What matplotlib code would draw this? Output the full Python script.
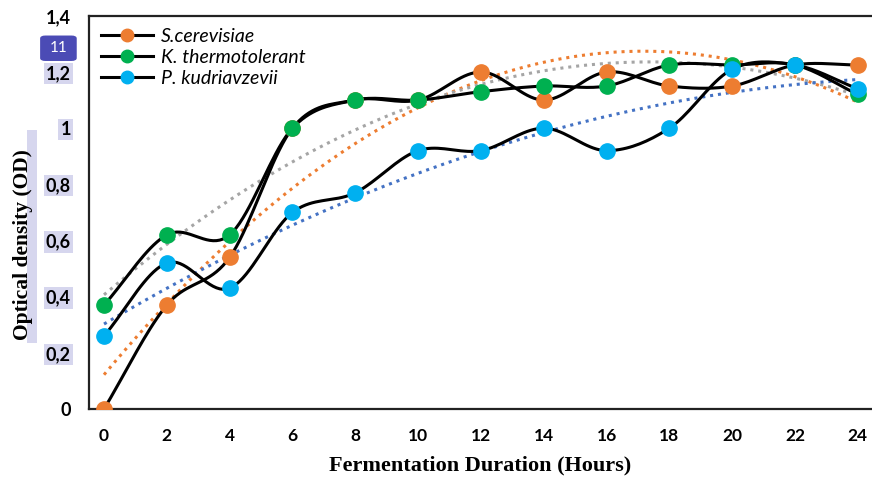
import numpy as np
import matplotlib.pyplot as plt
from matplotlib.patches import Rectangle, FancyBboxPatch

# data
hours = [0, 2, 4, 6, 8, 10, 12, 14, 16, 18, 20, 22, 24]
s_cerevisiae = [0.0, 0.37, 0.54, 1.0, 1.1, 1.1, 1.2, 1.1, 1.2, 1.15, 1.15, 1.225, 1.225]
k_thermo = [0.37, 0.62, 0.62, 1.0, 1.1, 1.1, 1.13, 1.15, 1.15, 1.225, 1.225, 1.225, 1.12]
p_kudri = [0.26, 0.52, 0.43, 0.70, 0.77, 0.92, 0.92, 1.0, 0.92, 1.0, 1.21, 1.225, 1.14]

names = ["S.cerevisiae", "K. thermotolerant", "P. kudriavzevii"]
marker_colors = ["#ed7d31", "#00b050", "#00b0f0"]
trend_colors = ["#ed7d31", "#a5a5a5", "#4472c4"]

yticks = [0, 0.2, 0.4, 0.6, 0.8, 1.0, 1.2, 1.4]
ytick_labels = ["0", "0,2", "0,4", "0,6", "0,8", "1", "1,2", "1,4"]


def smooth(x, y, n=20):
    # Catmull-Rom style curve, similar to Excel "smoothed line"
    x = np.asarray(x, float)
    y = np.asarray(y, float)
    px = np.concatenate([[2 * x[0] - x[1]], x, [2 * x[-1] - x[-2]]])
    py = np.concatenate([[2 * y[0] - y[1]], y, [2 * y[-1] - y[-2]]])
    xs, ys = [], []
    t = np.linspace(0, 1, n)
    for i in range(1, len(px) - 2):
        for arr, out in ((px, xs), (py, ys)):
            p0, p1, p2, p3 = arr[i - 1], arr[i], arr[i + 1], arr[i + 2]
            out.extend(0.5 * ((2 * p1) + (-p0 + p2) * t
                              + (2 * p0 - 5 * p1 + 4 * p2 - p3) * t ** 2
                              + (-p0 + 3 * p1 - 3 * p2 + p3) * t ** 3))
    return np.array(xs), np.array(ys)


fig = plt.figure(figsize=(8.72, 4.8), dpi=100)
ax = fig.add_axes([0.102, 0.148, 0.898, 0.819])

series = [s_cerevisiae, k_thermo, p_kudri]
xx = np.linspace(0, 24, 200)
for vals, tc in zip(series, trend_colors):
    coef = np.polyfit(hours, vals, 2)
    ax.plot(xx, np.polyval(coef, xx), linestyle=(0, (1, 1.6)), color=tc, lw=2.2, zorder=2)

for vals, name, mc in zip(series, names, marker_colors):
    sx, sy = smooth(hours, vals)
    ax.plot(sx, sy, color="black", lw=2.2, zorder=3)
    ax.plot(hours, vals, linestyle="none", marker="o", ms=11, mfc=mc, mec=mc, zorder=4)
    ax.plot([], [], color="black", lw=2.2, marker="o", ms=9, mfc=mc, mec=mc, label=name)

ax.set_xlim(-0.48, 24.45)
ax.set_ylim(0, 1.4)
ax.set_xticks(hours)
ax.set_xticklabels([str(h) for h in hours], fontfamily="Lato", fontweight="bold", fontsize=12.5)
ax.set_yticks(yticks)
ax.set_yticklabels(ytick_labels, fontfamily="Lato", fontweight="bold", fontsize=13)
ax.tick_params(axis="y", length=0, pad=13)
ax.tick_params(axis="x", length=0, pad=14)
for lab in ax.get_yticklabels()[1:7]:
    lab.set_bbox(dict(facecolor="#d6d6ee", edgecolor="none", pad=1.5))

for s in ["left", "bottom", "top"]:
    ax.spines[s].set_linewidth(1.6)
    ax.spines[s].set_color("#222222")
ax.spines["right"].set_visible(False)

ax.set_xlabel("Fermentation Duration (Hours)", fontfamily="Liberation Serif",
              fontweight="bold", fontsize=16, labelpad=8)
ax.set_ylabel("Optical density (OD)", fontfamily="Liberation Serif",
              fontweight="bold", fontsize=15.5)
ax.yaxis.set_label_coords(-0.071, 0.417)

leg = ax.legend(loc="upper left", frameon=False, handlelength=2.7, handletextpad=0.4,
                prop={"family": "Lato", "style": "italic", "size": 14},
                borderaxespad=0.2, labelspacing=0.22, bbox_to_anchor=(0.0, 1.0))

# highlight and badge as seen in the reference
fig.patches.append(Rectangle((0.031, 0.285), 0.011, 0.444, transform=fig.transFigure,
                             facecolor="#d6d6ee", edgecolor="none", zorder=-1))
fig.patches.append(FancyBboxPatch((0.049, 0.876), 0.036, 0.047, transform=fig.transFigure,
                                  boxstyle="round,pad=0.003,rounding_size=0.006",
                                  facecolor="#4b4bb5", edgecolor="none", zorder=5))
fig.text(0.067, 0.899, "11", color="white", fontsize=11, fontfamily="Lato",
         ha="center", va="center", zorder=6)

plt.savefig("out.png", dpi=100)
